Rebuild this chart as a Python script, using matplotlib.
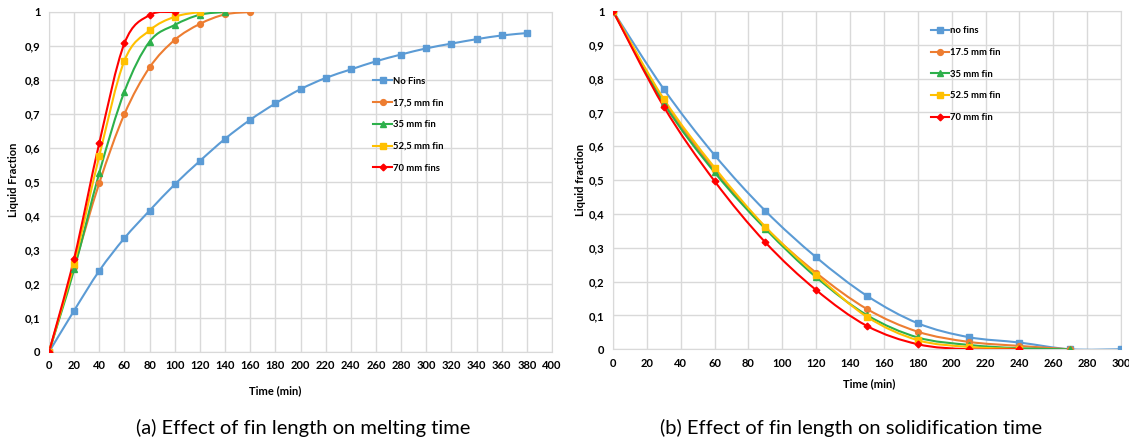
import matplotlib
matplotlib.use("Agg")
import matplotlib.pyplot as plt
import numpy as np
from matplotlib.path import Path
from matplotlib.patches import PathPatch
from matplotlib.lines import Line2D
from matplotlib.ticker import FuncFormatter

# melting (a)
melt_t_nofin = [0, 20, 40, 60, 80, 100, 120, 140, 160, 180, 200, 220, 240, 260, 280, 300, 320, 340, 360, 380]
melt_nofin = [0, 0.122, 0.239, 0.335, 0.416, 0.493, 0.562, 0.627, 0.683, 0.731, 0.773, 0.806, 0.831, 0.855, 0.875, 0.893, 0.907, 0.92, 0.931, 0.938]
melt_t_175 = [0, 20, 40, 60, 80, 100, 120, 140, 160]
melt_175 = [0, 0.25, 0.497, 0.70, 0.837, 0.918, 0.965, 0.993, 1.0]
melt_t_35 = [0, 20, 40, 60, 80, 100, 120, 140]
melt_35 = [0, 0.243, 0.527, 0.766, 0.913, 0.962, 0.992, 1.0]
melt_t_525 = [0, 20, 40, 60, 80, 100, 120]
melt_525 = [0, 0.26, 0.577, 0.857, 0.946, 0.986, 1.0]
melt_t_70 = [0, 20, 40, 60, 80, 100]
melt_70 = [0, 0.275, 0.615, 0.908, 0.991, 1.0]

# solidification (b)
sol_t = [0, 30, 60, 90, 120, 150, 180, 210, 240, 270, 300]
sol_nofin = [1, 0.769, 0.574, 0.409, 0.272, 0.158, 0.077, 0.036, 0.02, 0, 0]
sol_175 = [1, 0.735, 0.53, 0.36, 0.226, 0.119, 0.052, 0.022, 0.01, 0]
sol_35 = [1, 0.727, 0.523, 0.356, 0.213, 0.101, 0.035, 0.013, 0.003, 0]
sol_525 = [1, 0.74, 0.537, 0.362, 0.22, 0.096, 0.027, 0.007, 0.001]
sol_70 = [1, 0.717, 0.497, 0.316, 0.175, 0.069, 0.015, 0.0, 0.0]

colors = ["#5B9BD5", "#ED7D31", "#2DB04B", "#FFC000", "#FF0000"]
markers = ["s", "o", "^", "s", "D"]
melt_labels = ["No Fins", "17,5 mm fin", "35 mm fin", "52,5 mm fin", "70 mm fins"]
sol_labels = ["no fins", "17.5 mm fin", "35 mm fin", "52.5 mm fin", "70 mm fin"]

plt.rcParams['font.family'] = ['Lato', 'DejaVu Sans']
TICK = 8


def smooth_path(x, y):
    # Excel-like smoothed line: cubic Bezier through the points
    p = np.column_stack([x, y]).astype(float)
    n = len(p)
    verts = [p[0]]
    codes = [Path.MOVETO]
    for i in range(n - 1):
        p0 = p[i - 1] if i > 0 else p[i]
        p3 = p[i + 2] if i + 2 < n else p[i + 1]
        c1 = p[i] + (p[i + 1] - p0) / 6
        c2 = p[i + 1] - (p3 - p[i]) / 6
        verts += [c1, c2, p[i + 1]]
        codes += [Path.CURVE4] * 3
    return Path(verts, codes)


def draw(ax, series, labels, legend_xy):
    handles = []
    for (x, y), c, m, lab in zip(series, colors, markers, labels):
        ax.add_patch(PathPatch(smooth_path(x, y), fill=False, edgecolor=c, lw=1.5, zorder=3))
        ms = 3.4 if m == "D" else 4.2
        ax.plot(x, y, ls="none", marker=m, color=c, ms=ms, zorder=4)
        handles.append(Line2D([], [], color=c, lw=1.5, marker=m, ms=ms))
    ax.legend(handles, labels, loc="upper left", bbox_to_anchor=legend_xy, frameon=False,
              prop={"weight": "bold", "size": 6.8}, handlelength=2.0, handletextpad=0.1,
              labelspacing=1.35, borderaxespad=0, borderpad=0)
    ax.grid(True, color="#d9d9d9", lw=1)
    ax.set_axisbelow(True)
    for s in ax.spines.values():
        s.set_color("#d9d9d9")
    ax.tick_params(length=0, labelsize=TICK, pad=6)
    ax.set_ylim(0, 1)
    ax.set_yticks(np.arange(0, 1.01, 0.1))
    ax.yaxis.set_major_formatter(FuncFormatter(lambda v, p: "0" if v == 0 else ("1" if abs(v - 1) < 1e-9 else f"{v:.1f}".replace(".", ","))))


fig = plt.figure(figsize=(11.29, 4.41), dpi=100)
ax1 = fig.add_axes([49 / 1129, 1 - 352 / 441, 503 / 1129, 340 / 441])
ax2 = fig.add_axes([613 / 1129, 1 - 349.3 / 441, 508 / 1129, 338.3 / 441])

melt = [(melt_t_nofin, melt_nofin), (melt_t_175, melt_175), (melt_t_35, melt_35),
        (melt_t_525, melt_525), (melt_t_70, melt_70)]
sol = [(sol_t, sol_nofin), (sol_t[:len(sol_175)], sol_175), (sol_t[:len(sol_35)], sol_35),
       (sol_t[:len(sol_525)], sol_525), (sol_t[:len(sol_70)], sol_70)]

ax1.set_xlim(0, 400)
ax1.set_xticks(np.arange(0, 401, 20))
draw(ax1, melt, melt_labels, (0.645, 0.81))
ax2.set_xlim(0, 300)
ax2.set_xticks(np.arange(0, 301, 20))
draw(ax2, sol, sol_labels, (0.625, 0.955))
for ax in (ax1, ax2):
    for t in ax.get_xticklabels() + ax.get_yticklabels():
        t.set_fontweight("bold")

fig.text(275 / 1129, 1 - 391 / 441, "Time (min)", ha="center", va="center", fontsize=TICK, fontweight="bold")
fig.text(869 / 1129, 1 - 384 / 441, "Time (min)", ha="center", va="center", fontsize=TICK, fontweight="bold")
fig.text(14 / 1129, 1 - 180 / 441, "Liquid Fraction", ha="center", va="center", rotation=90, fontsize=TICK, fontweight="bold")
fig.text(580 / 1129, 1 - 180 / 441, "Liquid fraction", ha="center", va="center", rotation=90, fontsize=TICK, fontweight="bold")
fig.text(303 / 1129, 1 - 428 / 441, "(a) Effect of fin length on melting time", ha="center", va="center", fontsize=14.5)
fig.text(851 / 1129, 1 - 428 / 441, "(b) Effect of fin length on solidification time", ha="center", va="center", fontsize=14.5)

fig.savefig("out.png", dpi=100)
